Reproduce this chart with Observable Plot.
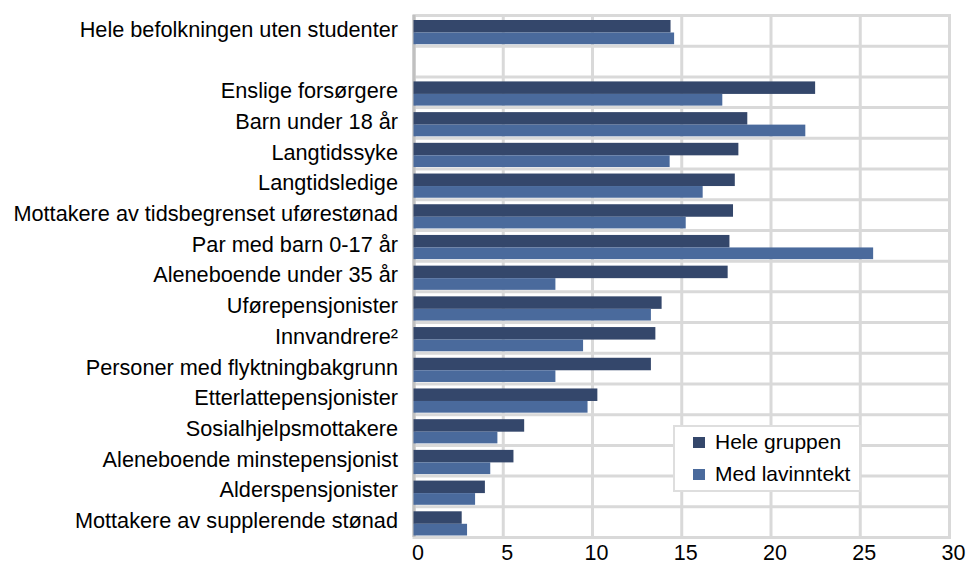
<!DOCTYPE html>
<html>
<head>
<meta charset="utf-8">
<script src="https://cdn.jsdelivr.net/npm/d3@7"></script>
<script src="https://cdn.jsdelivr.net/npm/@observablehq/plot@0.6"></script>
<style>
  html, body { margin: 0; padding: 0; background: #fff; }
  #wrap { position: relative; width: 970px; height: 565px; font-family: "Liberation Sans", Arial, sans-serif; }
  #legend { position: absolute; left: 673px; top: 425px; width: 188px; height: 67px; background: #fff;
            border: 2px solid #dedede; box-sizing: border-box; font-size: 21px; color: #000; }
  .item { position: absolute; left: 18px; display: flex; align-items: center; white-space: nowrap; }
  .sw { width: 12px; height: 11px; margin-right: 10px; }
</style>
</head>
<body>
<div id="wrap"><div id="legend"></div></div>
<script>
const categories = [
  "Hele befolkningen uten studenter",
  "",
  "Enslige forsørgere",
  "Barn under 18 år",
  "Langtidssyke",
  "Langtidsledige",
  "Mottakere av tidsbegrenset uførestønad",
  "Par med barn 0-17 år",
  "Aleneboende under 35 år",
  "Uførepensjonister",
  "Innvandrere²",
  "Personer med flyktningbakgrunn",
  "Etterlattepensjonister",
  "Sosialhjelpsmottakere",
  "Aleneboende minstepensjonist",
  "Alderspensjonister",
  "Mottakere av supplerende stønad"
];
const heleGruppen = [14.4, null, 22.5, 18.7, 18.2, 18.0, 17.9, 17.7, 17.6, 13.9, 13.55, 13.3, 10.3, 6.2, 5.6, 4.0, 2.7];
const medLavinntekt = [14.6, null, 17.3, 21.95, 14.35, 16.2, 15.25, 25.75, 7.95, 13.3, 9.5, 7.95, 9.75, 4.7, 4.3, 3.45, 3.0];
const seriesNames = ["Hele gruppen", "Med lavinntekt"];
const seriesColors = ["#34476b", "#4a6a9c"];
const xTicks = [0, 5, 10, 15, 20, 25, 30];

const rows = [];
categories.forEach((c, i) => {
  if (heleGruppen[i] != null) rows.push({cat: c, series: seriesNames[0], value: heleGruppen[i]});
  if (medLavinntekt[i] != null) rows.push({cat: c, series: seriesNames[1], value: medLavinntekt[i]});
});
const xMin = xTicks[0], xMax = xTicks[xTicks.length - 1];

const W = 970, H = 565, mT = 15, mB = 28;
const bandPx = (H - mT - mB) / categories.length;

const font = "Liberation Sans, Arial, sans-serif";
const chart = Plot.plot({
  width: W,
  height: H,
  marginLeft: 413.5,
  marginRight: 21,
  marginTop: mT,
  marginBottom: mB,
  style: {fontFamily: font, fontSize: "21.7px", color: "#000", background: "#fff"},
  x: {domain: [xMin, xMax]},
  y: {domain: categories, padding: 0, round: false},
  color: {domain: seriesNames, range: seriesColors},
  marks: [
    Plot.ruleX(xTicks, {stroke: "#d9d9d9", strokeWidth: 3}),
    Plot.ruleY(categories, {y: (d) => d, stroke: "#d9d9d9", strokeWidth: 3, dy: -bandPx / 2}),
    Plot.frame({stroke: "#d9d9d9", strokeWidth: 3}),
    Plot.ruleX([xMin], {stroke: "#c0c0c0", strokeWidth: 3}),
    Plot.barX(rows.filter(d => d.series === seriesNames[0]), {x: "value", y: "cat", fill: "series", insetTop: 5, insetBottom: 13.2}),
    Plot.barX(rows.filter(d => d.series === seriesNames[1]), {x: "value", y: "cat", fill: "series", insetTop: 17.5, insetBottom: 1.5}),
    Plot.axisX({ticks: xTicks, tickSize: 0, tickPadding: 7, fontSize: 21.5, dx: 4, label: null}),
    Plot.axisY({tickSize: 0, tickPadding: 16, fontSize: 21.7, dy: -1, label: null})
  ]
});
const wrap = document.getElementById("wrap");
wrap.insertBefore(chart, wrap.firstChild);

const legend = document.getElementById("legend");
seriesNames.forEach((s, i) => {
  const it = document.createElement("div");
  it.className = "item";
  it.style.top = (i === 0 ? 3 : 35) + "px";
  const sw = document.createElement("div");
  sw.className = "sw";
  sw.style.background = seriesColors[i];
  const t = document.createElement("span");
  t.textContent = s;
  it.appendChild(sw); it.appendChild(t);
  legend.appendChild(it);
});
</script>
</body>
</html>
